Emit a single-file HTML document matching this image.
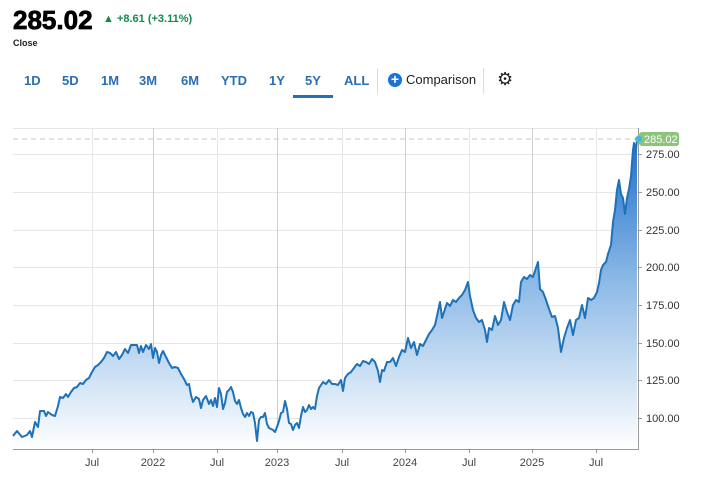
<!DOCTYPE html>
<html><head><meta charset="utf-8"><style>
body{margin:0;width:704px;height:485px;background:#fff;font-family:"Liberation Sans",sans-serif;position:relative;overflow:hidden}
.a{position:absolute;white-space:nowrap}
.tab{position:absolute;top:73px;font-size:13px;color:#2a6fb5;font-weight:bold}
</style></head><body>
<div class="a" style="left:13px;top:5px;font-size:26px;font-weight:900;color:#000;letter-spacing:0px;-webkit-text-stroke:0.8px #000">285.02</div>
<div class="a" style="left:103px;top:13px;font-size:11px;font-weight:bold;color:#138a4e">▲ +8.61 (+3.11%)</div>
<div class="a" style="left:13px;top:38px;font-size:9px;font-weight:bold;color:#222">Close</div>
<div class="tab" style="left:24px">1D</div>
<div class="tab" style="left:62px">5D</div>
<div class="tab" style="left:101px">1M</div>
<div class="tab" style="left:139px">3M</div>
<div class="tab" style="left:181px">6M</div>
<div class="tab" style="left:221px">YTD</div>
<div class="tab" style="left:269px">1Y</div>
<div class="tab" style="left:305px">5Y</div>
<div class="tab" style="left:344px">ALL</div>
<div class="a" style="left:293px;top:95px;width:40px;height:3px;background:#2a6fb5"></div>
<div class="a" style="left:377px;top:68px;width:1px;height:26px;background:#ddd"></div>
<div class="a" style="left:483px;top:68px;width:1px;height:26px;background:#ddd"></div>
<div class="a" style="left:388px;top:73px;width:14px;height:14px;border-radius:50%;background:#1a73d9;color:#fff;font-size:14px;line-height:13px;text-align:center;font-weight:bold">+</div>
<div class="a" style="left:406px;top:72px;font-size:13px;color:#222">Comparison</div>
<div class="a" style="left:497px;top:69px;font-size:18px;color:#222">⚙</div>
<svg width="704" height="485" style="position:absolute;left:0;top:0">
<defs><linearGradient id="g" gradientUnits="userSpaceOnUse" x1="0" y1="139" x2="0" y2="449">
<stop offset="0" stop-color="#1f6ecb"/><stop offset="0.45" stop-color="#8ab8e6"/><stop offset="1" stop-color="#ffffff"/></linearGradient></defs>
<g stroke="#e6e6e6" stroke-width="1">
<line x1="13" y1="128.5" x2="638" y2="128.5"/>
<line x1="13" y1="154.5" x2="638" y2="154.5"/><line x1="13" y1="192.5" x2="638" y2="192.5"/><line x1="13" y1="230.5" x2="638" y2="230.5"/><line x1="13" y1="267.5" x2="638" y2="267.5"/><line x1="13" y1="305.5" x2="638" y2="305.5"/><line x1="13" y1="343.5" x2="638" y2="343.5"/><line x1="13" y1="380.5" x2="638" y2="380.5"/><line x1="13" y1="418.5" x2="638" y2="418.5"/>
<line x1="92.5" y1="128" x2="92.5" y2="449"/><line x1="217.5" y1="128" x2="217.5" y2="449"/><line x1="342.5" y1="128" x2="342.5" y2="449"/><line x1="469.5" y1="128" x2="469.5" y2="449"/><line x1="596.5" y1="128" x2="596.5" y2="449"/>
</g>
<g stroke="#cfcfcf"><line x1="153.5" y1="128" x2="153.5" y2="449"/><line x1="277.5" y1="128" x2="277.5" y2="449"/><line x1="405.5" y1="128" x2="405.5" y2="449"/><line x1="532.5" y1="128" x2="532.5" y2="449"/></g>
<line x1="13" y1="139" x2="630" y2="139" stroke="#c8dcbf" stroke-dasharray="5,4" stroke-width="1.2"/>
<path fill="url(#g)" d="M13,436 L17,431 22,437 27,435 30,431 32,437 35,422 38,427 40,411 44,411 46,416 48,412 52,415 55,416 58,406 60,397 63,398 66,394 68,397 71,392 74,388 77,387 80,383 83,384 86,380 89,378 92,372 95,367 98,365 101,362 104,358 107,352 110,353 113,356 116,352 119,359 122,355 125,349 128,353 131,345 134,345 137,345 139,353 141,346 143,352 146,345 149,349 151,344 153,358 155,348 157,352 159,363 161,355 163,351 166,357 169,363 172,368 175,367 178,368 181,374 184,379 187,385 189,384 191,395 193,402 196,397 199,399 201,408 203,400 206,396 209,404 211,400 213,406 215,398 217,407 219,388 221,394 223,409 225,403 227,392 229,390 231,387 233,392 235,401 237,404 239,400 241,408 243,414 245,417 247,413 249,416 251,412 253,413 255,423 257,441 259,420 261,417 263,417 265,413 267,424 269,428 271,429 273,430 275,432 277,427 279,421 281,413 283,412 285,401 287,409 289,423 291,424 293,430 295,425 297,423 299,428 301,416 303,407 305,412 307,410 309,405 311,409 313,407 315,409 317,396 319,388 321,385 323,382 326,384 329,380 332,384 335,384 338,385 341,380 343,391 345,378 348,374 351,372 354,368 357,364 360,366 363,361 366,362 369,364 372,359 375,362 378,371 380,382 382,370 384,371 387,362 390,362 393,358 396,366 399,357 402,350 405,352 408,338 411,348 414,342 417,355 420,344 423,346 426,340 429,334 432,330 435,325 437,316 440,302 442,318 444,312 447,303 450,306 453,300 456,302 459,298 462,295 465,290 468,282 470,296 473,310 476,318 479,322 482,320 485,330 487,342 489,328 492,330 495,316 498,325 501,320 504,302 507,312 510,320 513,305 516,300 519,302 521,282 524,277 527,279 530,275 533,277 536,268 538,262 540,289 543,292 546,300 549,309 552,317 555,316 558,328 561,352 564,338 567,328 570,320 573,335 576,320 579,318 582,305 585,318 588,298 591,300 594,298 597,292 599,283 601,270 603,265 606,262 608,254 611,245 613,222 615,210 617,190 619,180 621,194 623,198 625,214 627,198 629,189 631,176 633,150 634,143 636,150 637,139 L637,449 L13,449 Z"/>
<polyline fill="none" stroke="#1f72b8" stroke-width="2" stroke-linejoin="round" points="13,436 17,431 22,437 27,435 30,431 32,437 35,422 38,427 40,411 44,411 46,416 48,412 52,415 55,416 58,406 60,397 63,398 66,394 68,397 71,392 74,388 77,387 80,383 83,384 86,380 89,378 92,372 95,367 98,365 101,362 104,358 107,352 110,353 113,356 116,352 119,359 122,355 125,349 128,353 131,345 134,345 137,345 139,353 141,346 143,352 146,345 149,349 151,344 153,358 155,348 157,352 159,363 161,355 163,351 166,357 169,363 172,368 175,367 178,368 181,374 184,379 187,385 189,384 191,395 193,402 196,397 199,399 201,408 203,400 206,396 209,404 211,400 213,406 215,398 217,407 219,388 221,394 223,409 225,403 227,392 229,390 231,387 233,392 235,401 237,404 239,400 241,408 243,414 245,417 247,413 249,416 251,412 253,413 255,423 257,441 259,420 261,417 263,417 265,413 267,424 269,428 271,429 273,430 275,432 277,427 279,421 281,413 283,412 285,401 287,409 289,423 291,424 293,430 295,425 297,423 299,428 301,416 303,407 305,412 307,410 309,405 311,409 313,407 315,409 317,396 319,388 321,385 323,382 326,384 329,380 332,384 335,384 338,385 341,380 343,391 345,378 348,374 351,372 354,368 357,364 360,366 363,361 366,362 369,364 372,359 375,362 378,371 380,382 382,370 384,371 387,362 390,362 393,358 396,366 399,357 402,350 405,352 408,338 411,348 414,342 417,355 420,344 423,346 426,340 429,334 432,330 435,325 437,316 440,302 442,318 444,312 447,303 450,306 453,300 456,302 459,298 462,295 465,290 468,282 470,296 473,310 476,318 479,322 482,320 485,330 487,342 489,328 492,330 495,316 498,325 501,320 504,302 507,312 510,320 513,305 516,300 519,302 521,282 524,277 527,279 530,275 533,277 536,268 538,262 540,289 543,292 546,300 549,309 552,317 555,316 558,328 561,352 564,338 567,328 570,320 573,335 576,320 579,318 582,305 585,318 588,298 591,300 594,298 597,292 599,283 601,270 603,265 606,262 608,254 611,245 613,222 615,210 617,190 619,180 621,194 623,198 625,214 627,198 629,189 631,176 633,150 634,143 636,150 637,139"/>
<line x1="638.5" y1="128" x2="638.5" y2="449" stroke="#999"/>
<line x1="13" y1="449.5" x2="639" y2="449.5" stroke="#999"/>
<g stroke="#999"><line x1="638" y1="154.5" x2="642" y2="154.5"/><line x1="638" y1="192.5" x2="642" y2="192.5"/><line x1="638" y1="230.5" x2="642" y2="230.5"/><line x1="638" y1="267.5" x2="642" y2="267.5"/><line x1="638" y1="305.5" x2="642" y2="305.5"/><line x1="638" y1="343.5" x2="642" y2="343.5"/><line x1="638" y1="380.5" x2="642" y2="380.5"/><line x1="638" y1="418.5" x2="642" y2="418.5"/>
<line x1="92.5" y1="449" x2="92.5" y2="453"/><line x1="153.5" y1="449" x2="153.5" y2="453"/><line x1="217.5" y1="449" x2="217.5" y2="453"/><line x1="277.5" y1="449" x2="277.5" y2="453"/><line x1="342.5" y1="449" x2="342.5" y2="453"/><line x1="405.5" y1="449" x2="405.5" y2="453"/><line x1="469.5" y1="449" x2="469.5" y2="453"/><line x1="532.5" y1="449" x2="532.5" y2="453"/><line x1="596.5" y1="449" x2="596.5" y2="453"/></g>
<g font-size="11" fill="#333" font-family="Liberation Sans,sans-serif">
<text x="646" y="158">275.00</text><text x="646" y="196">250.00</text><text x="646" y="234">225.00</text><text x="646" y="271">200.00</text><text x="646" y="309">175.00</text><text x="646" y="347">150.00</text><text x="646" y="384">125.00</text><text x="646" y="422">100.00</text>
</g>
<g font-size="11" fill="#444" font-family="Liberation Sans,sans-serif" text-anchor="middle">
<text x="92" y="466">Jul</text><text x="153" y="466">2022</text><text x="217" y="466">Jul</text><text x="277" y="466">2023</text><text x="342" y="466">Jul</text><text x="405" y="466">2024</text><text x="469" y="466">Jul</text><text x="532" y="466">2025</text><text x="596" y="466">Jul</text>
</g>
<path d="M634,139 L641,132 L676,132 Q679,132 679,135 L679,143 Q679,146 676,146 L641,146 Z" fill="#8cc47a"/>
<circle cx="639" cy="139" r="3" fill="#3ab6f0"/>
<text x="644" y="143" font-size="11" fill="#fff" font-family="Liberation Sans,sans-serif">285.02</text>
</svg>
</body></html>
